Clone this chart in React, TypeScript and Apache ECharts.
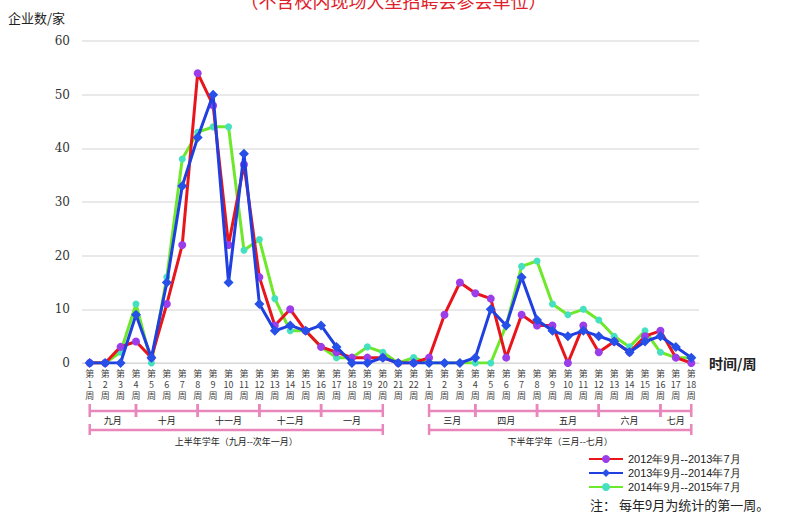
import React, { useEffect, useRef } from "react";
import * as echarts from "echarts";

const firstHalfWeeks = [1, 2, 3, 4, 5, 6, 7, 8, 9, 10, 11, 12, 13, 14, 15, 16, 17, 18, 19, 20, 21, 22];
const secondHalfWeeks = [1, 2, 3, 4, 5, 6, 7, 8, 9, 10, 11, 12, 13, 14, 15, 16, 17, 18];
const categories = [
  ...firstHalfWeeks.map((w) => `上${w}`),
  ...secondHalfWeeks.map((w) => `下${w}`),
];

const seriesNames = ["2012年9月--2013年7月", "2013年9月--2014年7月", "2014年9月--2015年7月"];

const y2012 = [0, 0, 3, 4, 1, 11, 22, 54, 48, 22, 37, 16, 7, 10, 6, 3, 2, 1, 1, 1, 0, 0,
  1, 9, 15, 13, 12, 1, 9, 7, 7, 0, 7, 2, 4, 2, 5, 6, 1, 0];
const y2013 = [0, 0, 0, 9, 1, 15, 33, 42, 50, 15, 39, 11, 6, 7, 6, 7, 3, 0, 0, 1, 0, 0,
  0, 0, 0, 1, 10, 7, 16, 8, 6, 5, 6, 5, 4, 2, 4, 5, 3, 1];
const y2014 = [0, 0, 2, 11, 0, 16, 38, 43, 44, 44, 21, 23, 12, 6, 6, 3, 1, 1, 3, 2, 0, 1,
  0, 0, 0, 0, 0, 7, 18, 19, 11, 9, 10, 8, 5, 3, 6, 2, 1, 1];

// month brackets: [label, startIndex, endIndex]
const monthGroups: [string, number, number][] = [
  ["九月", 0, 3], ["十月", 3, 7], ["十一月", 7, 11], ["十二月", 11, 15], ["一月", 15, 19],
  ["三月", 22, 25], ["四月", 25, 29], ["五月", 29, 33], ["六月", 33, 37], ["七月", 37, 39],
];
const semesterGroups: [string, number, number][] = [
  ["上半年学年（九月--次年一月）", 0, 19],
  ["下半年学年（三月--七月）", 22, 39],
];

const PINK = "#e986bb";

export default function App() {
  const ref = useRef<HTMLDivElement>(null);
  useEffect(() => {
    if (!ref.current) return;
    const chart = echarts.init(ref.current, undefined, { renderer: "svg" });
    const option: any = {
      animation: false,
      backgroundColor: "#ffffff",
      grid: { left: 82, right: 88, top: 41, bottom: 151, containLabel: false },
      legend: {
        orient: "vertical",
        left: 588,
        top: 452,
        itemWidth: 34,
        itemHeight: 10,
        itemGap: 0,
        padding: 0,
        textStyle: { fontSize: 11, lineHeight: 14, color: "#222", fontFamily: "Liberation Sans" },
        data: seriesNames,
      },
      xAxis: {
        type: "category",
        data: categories,
        boundaryGap: true,
        name: "时间/周",
        nameLocation: "end",
        nameGap: 10,
        nameTextStyle: { fontSize: 14, fontWeight: "bold", color: "#222", fontFamily: "Noto Sans CJK SC", verticalAlign: "middle" },
        axisLine: { show: true, lineStyle: { color: "#d8d8d8", width: 1 } },
        axisTick: { show: false },
        axisLabel: {
          interval: 0,
          margin: 5,
          fontSize: 9,
          lineHeight: 11,
          color: "#444",
          fontFamily: "Noto Sans CJK SC",
          formatter: (v: string) => `第\n${v.slice(1)}\n周`,
        },
      },
      yAxis: {
        type: "value",
        min: 0,
        max: 60,
        interval: 10,
        axisLine: { show: false },
        axisTick: { show: false },
        axisLabel: { fontSize: 12, color: "#333", margin: 12, fontFamily: "DejaVu Serif" },
        splitLine: { lineStyle: { color: "#e2e2e2", width: 1.5 } },
      },
      series: [
        {
          name: seriesNames[0],
          type: "line",
          data: y2012,
          symbol: "circle",
          symbolSize: 8,
          lineStyle: { color: "#e8151c", width: 3 },
          itemStyle: { color: "#9b3de8" },
          z: 3,
        },
        {
          name: seriesNames[1],
          type: "line",
          data: y2013,
          symbol: "diamond",
          symbolSize: 10,
          lineStyle: { color: "#1f3fe0", width: 3 },
          itemStyle: { color: "#2650e8" },
          z: 4,
        },
        {
          name: seriesNames[2],
          type: "line",
          data: y2014,
          symbol: "circle",
          symbolSize: 7,
          lineStyle: { color: "#6ee82a", width: 3 },
          itemStyle: { color: "#44e0c0" },
          z: 2,
        },
      ],
    };
    chart.setOption(option);

    const px = (i: number) => chart.convertToPixel({ xAxisIndex: 0 }, i) as number;
    const graphics: any[] = [];
    graphics.push({
      type: "text",
      left: "center",
      top: -9,
      style: { text: "（不含校内现场大型招聘会参会单位）", fontSize: 18, fill: "#e0202a", fontFamily: "Noto Sans CJK SC" },
    });
    graphics.push({
      type: "text",
      left: 8,
      top: 11,
      style: { text: "企业数/家", fontSize: 13, fill: "#222", fontFamily: "Noto Sans CJK SC" },
    });
    graphics.push({
      type: "text",
      left: 590,
      top: 498,
      style: { text: "注： 每年9月为统计的第一周。", fontSize: 13, fill: "#222", fontFamily: "Noto Sans CJK SC" },
    });
    const lineStyle = { stroke: PINK, lineWidth: 2.5 };
    const addBracket = (x1: number, x2: number, y: number, t1: number, t2: number, ticks: number[]) => {
      graphics.push({ type: "line", shape: { x1, y1: y, x2, y2: y }, style: lineStyle });
      ticks.forEach((x) => graphics.push({ type: "line", shape: { x1: x, y1: t1, x2: x, y2: t2 }, style: lineStyle }));
    };
    const halves: [number, number][] = [[0, 19], [22, 39]];
    halves.forEach(([s, e]) => {
      const ticks = monthGroups.filter((g) => g[1] >= s && g[2] <= e).flatMap((g) => [px(g[1]), px(g[2])]);
      addBracket(px(s), px(e), 411, 404, 417, ticks);
    });
    monthGroups.forEach(([label, s, e]) => {
      graphics.push({
        type: "text",
        x: (px(s) + px(e)) / 2,
        y: 420,
        style: { text: label, fontSize: 9, fill: "#222", align: "center", verticalAlign: "middle", fontFamily: "Noto Sans CJK SC" },
      });
    });
    semesterGroups.forEach(([label, s, e]) => {
      addBracket(px(s), px(e), 430, 424, 435, [px(s), px(e)]);
      graphics.push({
        type: "text",
        x: (px(s) + px(e)) / 2,
        y: 441,
        style: { text: label, fontSize: 9, fill: "#222", align: "center", verticalAlign: "middle", fontFamily: "Noto Sans CJK SC" },
      });
    });
    chart.setOption({ graphic: graphics });

    return () => chart.dispose();
  }, []);
  return <div ref={ref} style={{ position: "absolute", left: 0, top: 0, width: 787, height: 514 }} />;
}
